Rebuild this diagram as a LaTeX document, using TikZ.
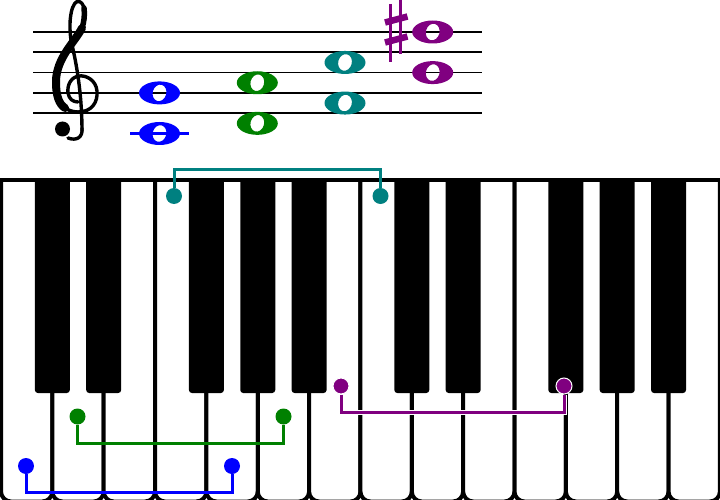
\documentclass[tikz,border=0pt]{standalone}
\definecolor{nblue}{RGB}{0,0,255}
\definecolor{ngreen}{RGB}{0,128,0}
\definecolor{nteal}{RGB}{0,128,128}
\definecolor{npurple}{RGB}{128,0,128}
\newcommand\wnote[3]{%
  \fill[#1, even odd rule] (#2,#3) ellipse (20.5 and 11.5)
    {[shift={(#2,#3)}, rotate=-15] (0,0) ellipse (6.8 and 8.4)};}
\begin{document}
\begin{tikzpicture}[x=1pt,y=-1pt,
  whitekey/.style={fill=white, draw=black, line width=4pt},
  blackkey/.style={fill=black},
  staffline/.style={black, line width=1.8pt},
  clefline/.style={black, line cap=round, line join=round},
  dot/.style={circle, inner sep=0pt, minimum size=16pt},
  conn/.style={line width=3pt, line join=miter}]
\useasboundingbox (0,0) rectangle (720,500);
\fill[white] (0,0) rectangle (720,500);
% staff
\foreach \k in {0,...,4}
  \draw[staffline] (33,{32+\k*20.3}) -- (482,{32+\k*20.3});
% treble clef
\draw[clefline, line width=3.4pt] (82,131)
   .. controls (82,100) and (78,70) .. (72,45)
   .. controls (68,28) and (70,5) .. (77,1.5)
   .. controls (85,0) and (87,16) .. (82,28)
   .. controls (75,42) and (54,58) .. (54,82)
   .. controls (54,103) and (66,112) .. (78,112)
   .. controls (92,112) and (98,102) .. (97,91)
   .. controls (96,80) and (86,75) .. (79,76)
   .. controls (71,77) and (67,85) .. (68,93)
   .. controls (69,99) and (73,102) .. (78,102);
\draw[clefline, line width=5.5pt] (84,8) .. controls (85,15) and (84,22) .. (82,28);
\draw[clefline, line width=8pt] (82,28)
   .. controls (75,42) and (56,58) .. (56,82)
   .. controls (56,96) and (59,104) .. (65,108);
\draw[clefline, line width=3.4pt] (82,128) .. controls (83,138) and (76,141) .. (68,138);
\fill[black] (62.5,129) circle (7.5);
% notes
\draw[nblue, line width=3pt] (130,133.5) -- (189,133.5);
\wnote{nblue}{159.5}{92.9}
\wnote{nblue}{159.5}{133.5}
\wnote{ngreen}{257.3}{82.75}
\wnote{ngreen}{257.3}{123.35}
\wnote{nteal}{345}{62.45}
\wnote{nteal}{345}{103.05}
\wnote{npurple}{432.7}{32}
\wnote{npurple}{432.7}{72.6}
% sharp
\draw[npurple, line width=3pt] (390,4) -- (390,62);
\draw[npurple, line width=3pt] (400.5,0) -- (400.5,54);
\draw[npurple, line width=6.5pt] (385,22.5) -- (407.5,16.5);
\draw[npurple, line width=6.5pt] (385,42.5) -- (407.5,36.5);
% keyboard
\begin{scope}
  \clip (-5,180) rectangle (725,510);
  \foreach \i in {0,...,13}
    \draw[whitekey, rounded corners=10pt] ({1+\i*51.35},160) rectangle ({1+(\i+1)*51.35},501.5);
  \foreach \j in {1,2,4,5,6,8,9,11,12,13}
    \fill[blackkey, rounded corners=3pt] ({1+\j*51.35-17.5},160) rectangle ({1+\j*51.35+17.5},393);
\end{scope}
\draw[black, line width=3.5pt] (0,180) -- (720,180);
% dots
\node[dot, fill=nteal] (tA) at (174,196) {};
\node[dot, fill=nteal] (tB) at (380.5,196) {};
\node[dot, fill=nblue] (bA) at (26,466) {};
\node[dot, fill=nblue] (bB) at (232,466) {};
\node[dot, fill=ngreen] (gA) at (77.5,416.5) {};
\node[dot, fill=ngreen] (gB) at (283.5,416.5) {};
\node[dot, fill=npurple, draw=white, line width=1pt] (pA) at (341,386) {};
\node[dot, fill=npurple, draw=white, line width=1pt] (pB) at (564,386) {};
\coordinate (tH) at (174,169);
\coordinate (bH) at (26,492.5);
\coordinate (gH) at (77.5,443);
\coordinate (pH) at (341,412.5);
\draw[conn, nteal] (tA) -- (tH) -| (tB);
\draw[conn, nblue] (bA) -- (bH) -| (bB);
\draw[conn, ngreen] (gA) -- (gH) -| (gB);
\draw[conn, white, line width=5pt] (pA) -- (pH) -| (pB);
\draw[conn, npurple] (pA) -- (pH) -| (pB);
\end{tikzpicture}
\end{document}
